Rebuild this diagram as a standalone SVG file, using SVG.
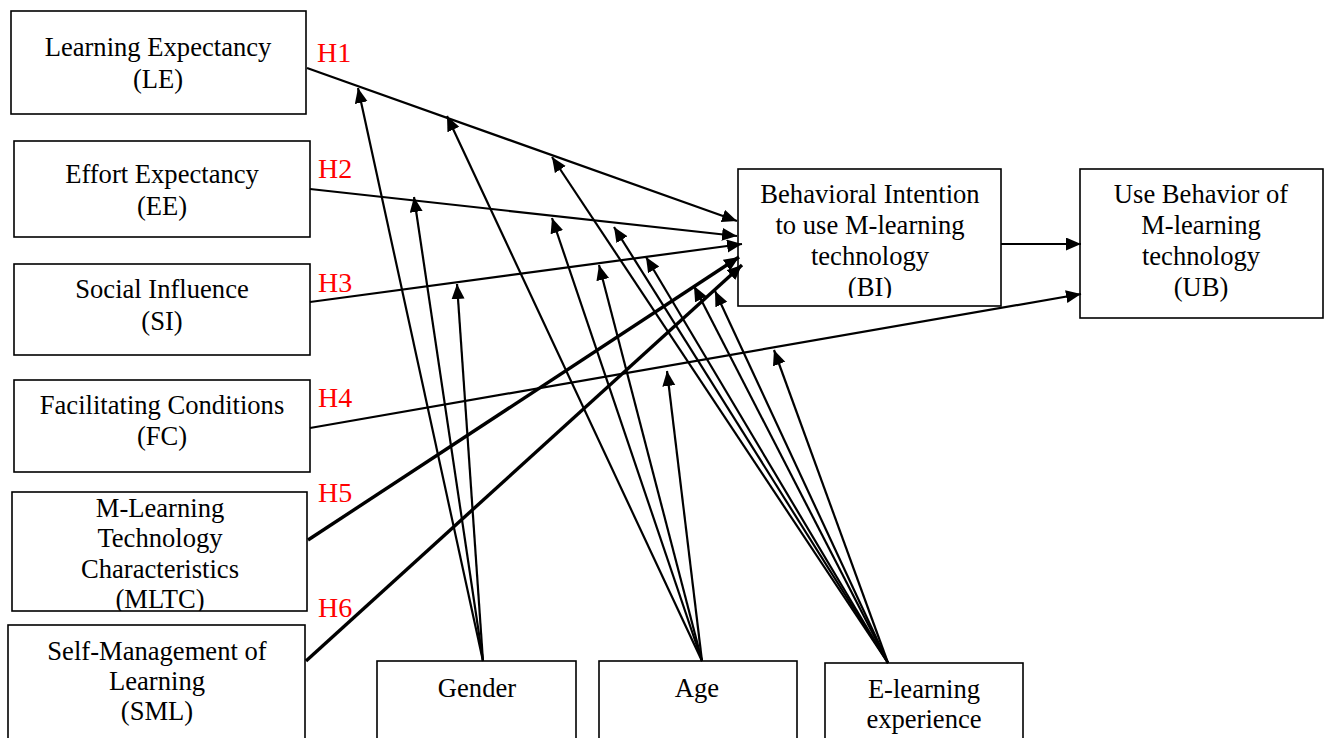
<svg xmlns="http://www.w3.org/2000/svg" width="1327" height="738" viewBox="0 0 1327 738">
  <style>
    .box { fill: #fff; stroke: #000; stroke-width: 1.6; }
    .lbl { font-family: 'Liberation Serif', Tinos, 'Times New Roman', Times, 'DejaVu Serif', serif; font-size: 26.6px; fill: #000; text-anchor: middle; }
    .hyp { font-family: 'Liberation Serif', Tinos, 'Times New Roman', Times, 'DejaVu Serif', serif; font-size: 28px; fill: #ff0000; }
    .edge { fill: none; stroke: #000; stroke-width: 2.2; marker-end: url(#arrow); }
    .edge.thick { stroke-width: 3.4; }
  </style>
  <defs>
    <marker id="arrow" markerUnits="userSpaceOnUse" markerWidth="16" markerHeight="14" refX="15" refY="6.5" orient="auto">
      <path d="M0,0 L15,6.5 L0,13 Z" fill="#000"/>
    </marker>
    <clipPath id="clipBI"><rect x="738" y="169" width="263" height="129"/></clipPath>
    <clipPath id="clipMLTC"><rect x="12" y="492" width="295" height="119"/></clipPath>
  </defs>

  <rect width="1327" height="738" fill="#fff"/>

  <!-- constructs -->
  <g id="node-LE">
    <rect class="box" x="11" y="11" width="295" height="103"/>
    <text class="lbl" x="158" y="56">Learning Expectancy</text>
    <text class="lbl" x="158" y="88">(LE)</text>
  </g>
  <g id="node-EE">
    <rect class="box" x="14" y="141" width="296" height="96"/>
    <text class="lbl" x="162" y="183">Effort Expectancy</text>
    <text class="lbl" x="162" y="215">(EE)</text>
  </g>
  <g id="node-SI">
    <rect class="box" x="14" y="264" width="296" height="91"/>
    <text class="lbl" x="162" y="298">Social Influence</text>
    <text class="lbl" x="162" y="330">(SI)</text>
  </g>
  <g id="node-FC">
    <rect class="box" x="14" y="380" width="296" height="92"/>
    <text class="lbl" x="162" y="414">Facilitating Conditions</text>
    <text class="lbl" x="162" y="445">(FC)</text>
  </g>
  <g id="node-MLTC">
    <rect class="box" x="12" y="492" width="295" height="119"/>
    <g clip-path="url(#clipMLTC)">
      <text class="lbl" x="160" y="517">M-Learning</text>
      <text class="lbl" x="160" y="547">Technology</text>
      <text class="lbl" x="160" y="578">Characteristics</text>
      <text class="lbl" x="160" y="608">(MLTC)</text>
    </g>
  </g>
  <g id="node-SML">
    <rect class="box" x="8" y="625" width="297" height="120"/>
    <text class="lbl" x="157" y="660">Self-Management of</text>
    <text class="lbl" x="157" y="690">Learning</text>
    <text class="lbl" x="157" y="720">(SML)</text>
  </g>
  <g id="node-BI">
    <rect class="box" x="738" y="169" width="263" height="137"/>
    <g clip-path="url(#clipBI)">
      <text class="lbl" x="870" y="203">Behavioral Intention</text>
      <text class="lbl" x="870" y="234">to use M-learning</text>
      <text class="lbl" x="870" y="265">technology</text>
      <text class="lbl" x="870" y="296">(BI)</text>
    </g>
  </g>
  <g id="node-UB">
    <rect class="box" x="1080" y="169" width="243" height="149"/>
    <text class="lbl" x="1201" y="203">Use Behavior of</text>
    <text class="lbl" x="1201" y="234">M-learning</text>
    <text class="lbl" x="1201" y="265">technology</text>
    <text class="lbl" x="1201" y="296">(UB)</text>
  </g>

  <!-- moderators -->
  <g id="node-gender">
    <rect class="box" x="377" y="661" width="199" height="90"/>
    <text class="lbl" x="477" y="697">Gender</text>
  </g>
  <g id="node-age">
    <rect class="box" x="599" y="661" width="198" height="90"/>
    <text class="lbl" x="697" y="697">Age</text>
  </g>
  <g id="node-elearning">
    <rect class="box" x="825" y="663" width="198" height="90"/>
    <text class="lbl" x="924" y="698">E-learning</text>
    <text class="lbl" x="924" y="728">experience</text>
  </g>

  <!-- hypothesis paths and moderating effects -->
  <g id="connectors">
    <line class="edge" x1="307" y1="68" x2="737" y2="221"/>
    <line class="edge" x1="310" y1="189" x2="737" y2="236"/>
    <line class="edge" x1="310" y1="302" x2="742" y2="244"/>
    <line class="edge" x1="310" y1="428" x2="1081" y2="294"/>
    <line class="edge thick" x1="308" y1="540" x2="739" y2="257"/>
    <line class="edge thick" x1="306" y1="661" x2="742" y2="265"/>
    <line class="edge" x1="1001" y1="244" x2="1081" y2="244"/>

    <!-- gender -->
    <line class="edge" x1="483" y1="661" x2="358" y2="88"/>
    <line class="edge" x1="483" y1="661" x2="414" y2="197"/>
    <line class="edge" x1="483" y1="661" x2="457" y2="284"/>
    <!-- age -->
    <line class="edge" x1="702" y1="661" x2="447" y2="116"/>
    <line class="edge" x1="702" y1="661" x2="552" y2="218"/>
    <line class="edge" x1="702" y1="661" x2="599" y2="265"/>
    <line class="edge" x1="702" y1="661" x2="667" y2="371"/>
    <!-- e-learning experience -->
    <line class="edge" x1="888" y1="663" x2="552" y2="157"/>
    <line class="edge" x1="888" y1="663" x2="614" y2="227"/>
    <line class="edge" x1="888" y1="663" x2="646" y2="257"/>
    <line class="edge" x1="888" y1="663" x2="694" y2="286"/>
    <line class="edge" x1="888" y1="663" x2="715" y2="291"/>
    <line class="edge" x1="888" y1="663" x2="774" y2="350"/>
  </g>

  <g id="hypothesis-labels">
    <text class="hyp" x="317" y="62">H1</text>
    <text class="hyp" x="318" y="178">H2</text>
    <text class="hyp" x="318" y="292">H3</text>
    <text class="hyp" x="318" y="407">H4</text>
    <text class="hyp" x="318" y="502">H5</text>
    <text class="hyp" x="318" y="617">H6</text>
  </g>
</svg>
